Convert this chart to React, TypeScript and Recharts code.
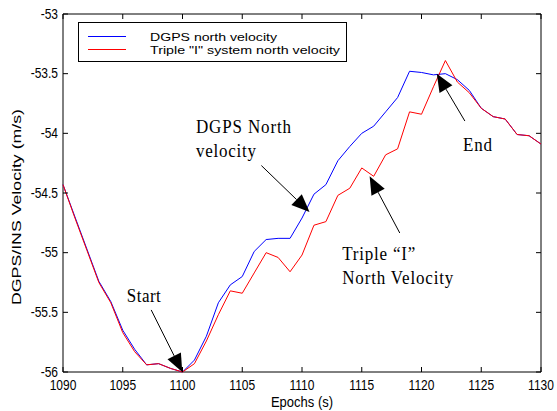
import {
  LineChart,
  Line,
  XAxis,
  YAxis,
  ReferenceArea,
  ReferenceLine,
  ReferenceDot,
} from "recharts";

// Epoch axis (s)
const epochs = [
  1090, 1091, 1092, 1093, 1094, 1095, 1096, 1097, 1098, 1099, 1100,
  1101, 1102, 1103, 1104, 1105, 1106, 1107, 1108, 1109, 1110,
  1111, 1112, 1113, 1114, 1115, 1116, 1117, 1118, 1119, 1120,
  1121, 1122, 1123, 1124, 1125, 1126, 1127, 1128, 1129, 1130,
];

// DGPS north velocity (m/s)
const dgpsNorth = [
  -54.43, -54.7, -54.97, -55.24, -55.41, -55.65, -55.81, -55.94, -55.93, -55.97, -56.0,
  -55.9, -55.7, -55.42, -55.27, -55.2, -54.99, -54.89, -54.88, -54.88, -54.71,
  -54.51, -54.43, -54.23, -54.11, -54.0, -53.94, -53.82, -53.7, -53.48, -53.49,
  -53.51, -53.5, -53.55, -53.64, -53.79, -53.86, -53.88, -54.01, -54.02, -54.09,
];

// Triple "I" system north velocity (m/s)
const tripleINorth = [
  -54.43, -54.71, -54.98, -55.25, -55.42, -55.67, -55.83, -55.94, -55.93, -55.97, -56.0,
  -55.93, -55.74, -55.52, -55.32, -55.34, -55.17, -55.0, -55.04, -55.16, -55.02,
  -54.77, -54.74, -54.52, -54.46, -54.29, -54.36, -54.18, -54.13, -53.82, -53.84,
  -53.61, -53.39, -53.57, -53.66, -53.79, -53.86, -53.88, -54.01, -54.02, -54.09,
];

const xTicks = [1090, 1095, 1100, 1105, 1110, 1115, 1120, 1125, 1130];
const yTicks = [-56, -55.5, -55, -54.5, -54, -53.5, -53];

const seriesNames = ["DGPS north velocity", 'Triple "I" system north velocity'];
const seriesColors = ["#0000ff", "#ff0000"];
const legendTextWidths = [127, 190];

const data = epochs.map((epoch, i) => ({
  epoch,
  dgps: dgpsNorth[i],
  triple: tripleINorth[i],
}));

// plot box edges in px (matches chart margins below)
const PLOT = { left: 63, right: 541, top: 14, bottom: 372 };
const TICK_LEN = 5;
const SANS = "'Liberation Sans', Arial, Helvetica, sans-serif";
const SERIF = "'Liberation Serif', 'Times New Roman', serif";

// the source figure is a bit stretched vertically, so text is too
const TALL = 1.15;

const XTick = (props: any) => {
  const { x, payload } = props;
  return (
    <g>
      <line x1={x} x2={x} y1={PLOT.bottom} y2={PLOT.bottom - TICK_LEN} stroke="#000" />
      <line x1={x} x2={x} y1={PLOT.top} y2={PLOT.top + TICK_LEN} stroke="#000" />
      <text
        transform={`translate(${x},${PLOT.bottom + 18}) scale(1,${TALL})`}
        textAnchor="middle"
        fontSize={12}
        fontFamily={SANS}
        fill="#000"
      >
        {payload.value}
      </text>
    </g>
  );
};

const YTick = (props: any) => {
  const { y, payload } = props;
  return (
    <g>
      <line x1={PLOT.left} x2={PLOT.left + TICK_LEN} y1={y} y2={y} stroke="#000" />
      <line x1={PLOT.right} x2={PLOT.right - TICK_LEN} y1={y} y2={y} stroke="#000" />
      <text
        transform={`translate(${PLOT.left - 5},${y + 4.5}) scale(1,${TALL})`}
        textAnchor="end"
        fontSize={12}
        fontFamily={SANS}
        fill="#000"
      >
        {payload.value}
      </text>
    </g>
  );
};

// arrow: first segment point is the tail, second is the tip
const Arrow = (props: any) => {
  const { x1, y1, x2, y2 } = props;
  const dx = x2 - x1;
  const dy = y2 - y1;
  const len = Math.sqrt(dx * dx + dy * dy) || 1;
  const ux = dx / len;
  const uy = dy / len;
  const headLen = 18;
  const halfW = 7.5;
  const bx = x2 - ux * headLen;
  const by = y2 - uy * headLen;
  return (
    <g>
      <line x1={x1} y1={y1} x2={bx} y2={by} stroke="#000" strokeWidth={1} />
      <polygon
        points={`${x2},${y2} ${bx - uy * halfW},${by + ux * halfW} ${bx + uy * halfW},${by - ux * halfW}`}
        fill="#000"
      />
    </g>
  );
};

interface NoteLine {
  text: string;
  width: number;
}

const makeNote = (lines: NoteLine[]) => (props: any) => {
  const { cx, cy } = props;
  return (
    <g>
      {lines.map((l, i) => (
        <text
          key={i}
          transform={`translate(${cx},${cy + i * 24}) scale(1,1.1)`}
          fontSize={17}
          fontFamily={SERIF}
          fill="#000"
          textLength={l.width}
          lengthAdjust="spacing"
        >
          {l.text}
        </text>
      ))}
    </g>
  );
};

function LegendBox() {
  return (
    <g>
      <rect x={78.5} y={22.5} width={268} height={39} fill="#fff" stroke="#000" strokeWidth={1} />
      {seriesNames.map((name, i) => (
        <g key={name}>
          <line x1={88} x2={126} y1={36.5 + i * 13} y2={36.5 + i * 13} stroke={seriesColors[i]} strokeWidth={1} />
          <text
            x={150}
            y={40.5 + i * 13}
            fontSize={11.5}
            fontFamily={SANS}
            fill="#000"
            textLength={legendTextWidths[i]}
            lengthAdjust="spacingAndGlyphs"
          >
            {name}
          </text>
        </g>
      ))}
    </g>
  );
}

export default function App() {
  return (
    <div style={{ position: "absolute", left: 0, top: 0, width: 557, height: 411, background: "#fff" }}>
      <LineChart
        width={557}
        height={411}
        data={data}
        margin={{ top: PLOT.top, right: 557 - PLOT.right, left: 0, bottom: 0 }}
      >
        <XAxis
          dataKey="epoch"
          type="number"
          domain={[1090, 1130]}
          ticks={xTicks}
          tick={<XTick />}
          tickLine={false}
          axisLine={false}
          height={411 - PLOT.bottom}
          interval={0}
        />
        <YAxis
          type="number"
          domain={[-56, -53]}
          ticks={yTicks}
          tick={<YTick />}
          tickLine={false}
          axisLine={false}
          width={PLOT.left}
          interval={0}
        />
        <ReferenceArea
          x1={1090}
          x2={1130}
          y1={-56}
          y2={-53}
          fill="none"
          fillOpacity={0}
          stroke="#000"
          strokeWidth={1}
        />
        <Line
          dataKey="dgps"
          name={seriesNames[0]}
          stroke={seriesColors[0]}
          strokeWidth={1}
          dot={false}
          isAnimationActive={false}
        />
        <Line
          dataKey="triple"
          name={seriesNames[1]}
          stroke={seriesColors[1]}
          strokeWidth={1}
          dot={false}
          isAnimationActive={false}
        />

        <ReferenceLine segment={[{ x: 1097.38, y: -55.48 }, { x: 1099.98, y: -56.0 }]} shape={<Arrow />} />
        <ReferenceLine segment={[{ x: 1106.6, y: -54.27 }, { x: 1110.63, y: -54.66 }]} shape={<Arrow />} />
        <ReferenceLine segment={[{ x: 1118.18, y: -54.835 }, { x: 1115.66, y: -54.36 }]} shape={<Arrow />} />
        <ReferenceLine segment={[{ x: 1123.63, y: -53.897 }, { x: 1121.28, y: -53.5 }]} shape={<Arrow />} />

        <ReferenceDot
          x={1095.34}
          y={-55.411}
          r={0}
          shape={makeNote([{ text: "Start", width: 34 }])}
        />
        <ReferenceDot
          x={1101.13}
          y={-53.995}
          r={0}
          shape={makeNote([
            { text: "DGPS North", width: 95 },
            { text: "velocity", width: 60 },
          ])}
        />
        <ReferenceDot
          x={1113.37}
          y={-55.061}
          r={0}
          shape={makeNote([
            { text: "Triple \u201CI\u201D", width: 73 },
            { text: "North Velocity", width: 111 },
          ])}
        />
        <ReferenceDot
          x={1123.48}
          y={-54.148}
          r={0}
          shape={makeNote([{ text: "End", width: 29 }])}
        />
      </LineChart>
      <svg
        width={557}
        height={411}
        style={{ position: "absolute", left: 0, top: 0, pointerEvents: "none" }}
      >
        <LegendBox />
        <text
          transform={`translate(302,407) scale(1,${TALL})`}
          textAnchor="middle"
          fontSize={13}
          fontFamily={SANS}
          fill="#000"
        >
          Epochs (s)
        </text>
        <text
          x={0}
          y={0}
          transform="translate(21,207) rotate(-90)"
          textAnchor="middle"
          fontSize={13}
          fontFamily={SANS}
          fill="#000"
          textLength={196}
          lengthAdjust="spacingAndGlyphs"
        >
          DGPS/INS Velocity (m/s)
        </text>
      </svg>
    </div>
  );
}
